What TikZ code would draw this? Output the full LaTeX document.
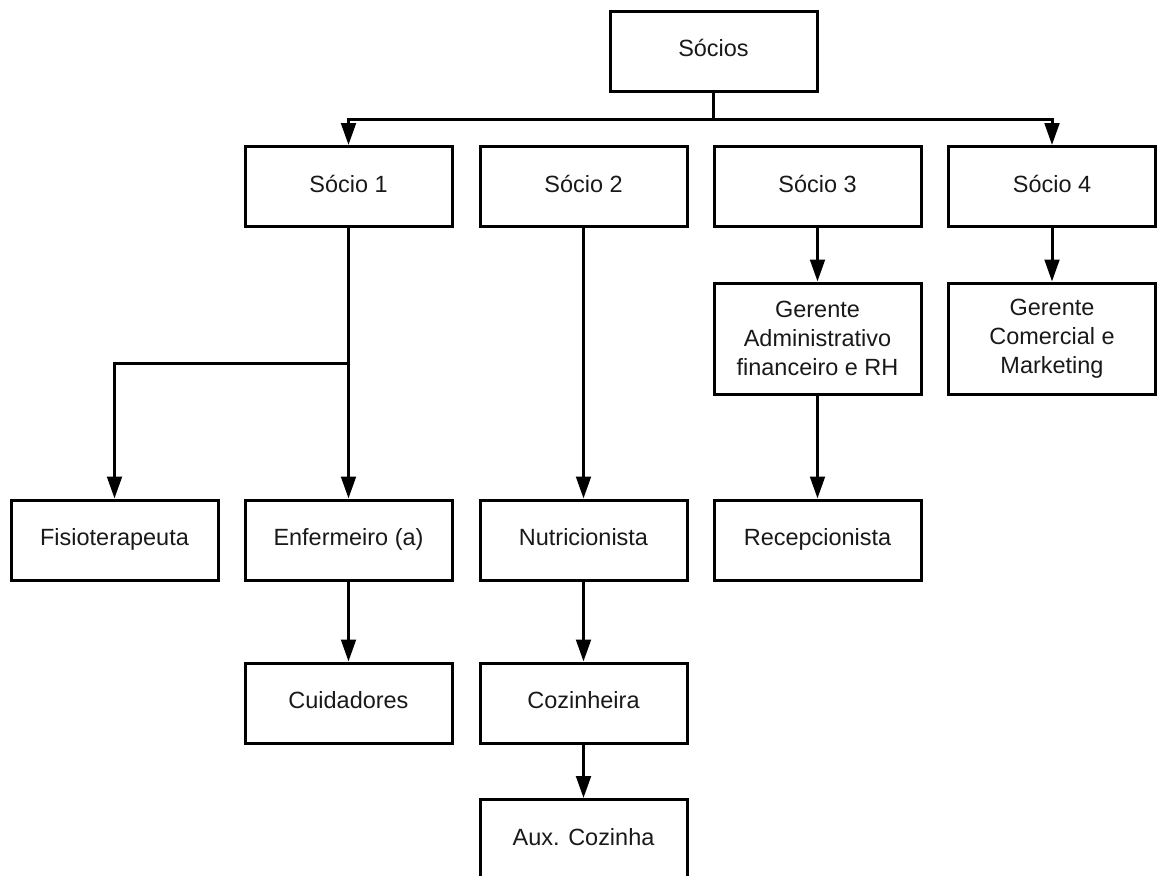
\documentclass[tikz,border=0pt]{standalone}
\usepackage{fontspec}
\setmainfont{Liberation Sans}
\usetikzlibrary{arrows.meta}
\begin{document}
\begin{tikzpicture}[x=0.75pt,y=-0.75pt,
  basebox/.style={draw, line width=2.25pt, minimum width=155.25pt, minimum height=60pt,
    inner sep=2pt, align=center, font=\fontsize{17.6}{21.75}\selectfont, text=black!90},
  box/.style={basebox, text height=13pt, text depth=4.5pt},
  tallbox/.style={basebox, minimum height=83.25pt},
  conn/.style={line width=2.25pt},
  arr/.style={conn, -{Triangle[width=11pt,length=16.5pt]}}]
\useasboundingbox (0,0) rectangle (1157,875);
\node[box] (socios) at (713.5,51) {Sócios};
\node[box] (s1) at (348.5,186.5) {Sócio 1};
\node[box] (s2) at (583.5,186.5) {Sócio 2};
\node[box] (s3) at (817.5,186.5) {Sócio 3};
\node[box] (s4) at (1052,186.5) {Sócio 4};
\node[tallbox] (ga) at (817.5,338.5) {Gerente\\Administrativo\\financeiro e RH};
\node[tallbox] (gc) at (1052,338.5) {Gerente\\Comercial e\\Marketing};
\node[box] (fisio) at (114.5,540) {Fisioterapeuta};
\node[box] (enf) at (348.5,540) {Enfermeiro (a)};
\node[box] (nutri) at (583.5,540) {Nutricionista};
\node[box] (recep) at (817.5,540) {Recepcionista};
\node[box] (cuid) at (348.5,703) {Cuidadores};
\node[box] (coz) at (583.5,703) {Cozinheira};
\node[box] (aux) at (583.5,839.5) {Aux. Cozinha};
\coordinate (bus) at (713.5,119);
\coordinate (br) at (348.5,363);
\draw[conn] (socios.south) -- (bus);
\draw[arr] (bus) -| (s1.north);
\draw[arr] (bus) -| (s4.north);
\draw[arr] (s1.south) -- (enf.north);
\draw[arr] (br) -| (fisio.north);
\draw[arr] (s2.south) -- (nutri.north);
\draw[arr] (s3.south) -- (ga.north);
\draw[arr] (ga.south) -- (recep.north);
\draw[arr] (s4.south) -- (gc.north);
\draw[arr] (enf.south) -- (cuid.north);
\draw[arr] (nutri.south) -- (coz.north);
\draw[arr] (coz.south) -- (aux.north);
\end{tikzpicture}
\end{document}
